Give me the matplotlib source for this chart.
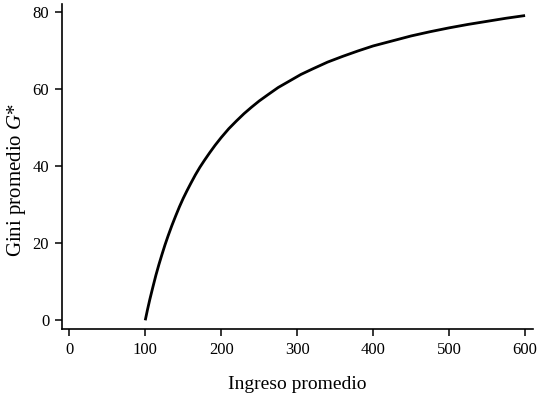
import matplotlib
matplotlib.use("Agg")
import matplotlib.pyplot as plt

ingreso = [100, 103, 106, 110, 114, 118, 122, 126, 130, 135, 140, 145, 150,
           155, 160, 166, 172, 178, 185, 192, 200, 210, 220, 230, 240, 250,
           262, 275, 290, 305, 320, 340, 360, 380, 400, 425, 450, 475, 500,
           525, 550, 575, 600]
gini = [0.0, 2.8, 5.4, 8.6, 11.7, 14.5, 17.1, 19.6, 21.9, 24.6, 27.1, 29.5,
        31.7, 33.7, 35.6, 37.8, 39.8, 41.6, 43.6, 45.5, 47.5, 49.8, 51.8,
        53.7, 55.4, 57.0, 58.7, 60.5, 62.2, 63.9, 65.3, 67.1, 68.6, 70.0,
        71.3, 72.6, 73.9, 75.0, 76.0, 76.9, 77.7, 78.5, 79.2]
xticks = [0, 100, 200, 300, 400, 500, 600]
yticks = [0, 20, 40, 60, 80]

plt.rcParams['font.family'] = ['Liberation Serif', 'DejaVu Serif']
plt.rcParams['mathtext.fontset'] = 'custom'
plt.rcParams['mathtext.it'] = 'Liberation Serif:italic'
plt.rcParams['mathtext.rm'] = 'Liberation Serif'

fig = plt.figure(figsize=(5.42, 3.96), dpi=100)
ax = fig.add_axes([0.1138, 0.1684, 0.869, 0.8215])
ax.plot(ingreso, gini, color='black', lw=2.0, solid_capstyle='butt',
        solid_joinstyle='round')
ax.set_xlim(-10, 610)
ax.set_ylim(-2.34, 82.2)
ax.set_xticks(xticks)
ax.set_yticks(yticks)
for s in ['top', 'right']:
    ax.spines[s].set_visible(False)
for s in ['left', 'bottom']:
    ax.spines[s].set_linewidth(1.2)
ax.tick_params(direction='out', length=5, width=1.1, labelsize=12, pad=4, colors='black')
ax.set_xlabel('Ingreso promedio', fontsize=14)
ax.set_ylabel('Gini promedio $G$*', fontsize=15)
ax.xaxis.set_label_coords(0.4996, -0.143)
ax.yaxis.set_label_coords(-0.072, 0.459)
fig.savefig('out.png', dpi=100)
